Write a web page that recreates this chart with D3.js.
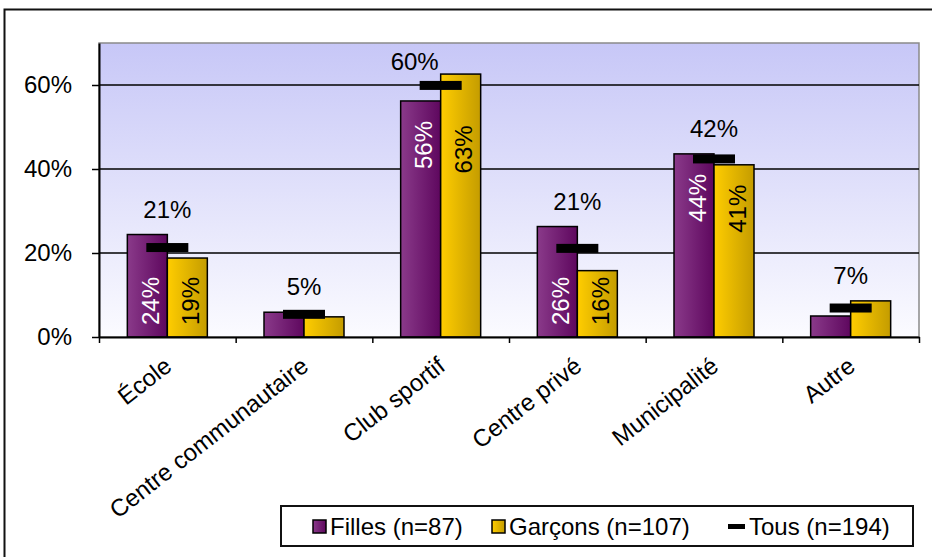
<!DOCTYPE html>
<html>
<head>
<meta charset="utf-8">
<script src="https://cdn.jsdelivr.net/npm/d3@7"></script>
<style>
  html, body { margin: 0; padding: 0; background: #fff; }
  svg { display: block; }
  text { font-family: "Liberation Sans", Arial, sans-serif; }
</style>
</head>
<body>
<svg id="chart" width="932" height="557"></svg>
<script>
// ---- Data ----
const categories = ["École", "Centre communautaire", "Club sportif", "Centre privé", "Municipalité", "Autre"];
const filles  = [24.4, 5.9, 56.2, 26.3, 43.6, 5.0];
const garcons = [18.8, 4.8, 62.6, 15.8, 41.0, 8.6];
const tous    = [21.3, 5.4, 59.9, 21.1, 42.4, 6.9];
const yTicks  = [0, 20, 40, 60];
const seriesNames = ["Filles (n=87)", "Garçons (n=107)", "Tous (n=194)"];

// ---- Layout ----
const svg = d3.select("#chart");
const plot = { left: 99, right: 919, top: 43, bottom: 337 };
const FS = 24;

const defs = svg.append("defs");
const bg = defs.append("linearGradient").attr("id", "bgGrad").attr("x1", 0).attr("y1", 0).attr("x2", 0).attr("y2", 1);
bg.append("stop").attr("offset", "0%").attr("stop-color", "#c7c7f7");
bg.append("stop").attr("offset", "100%").attr("stop-color", "#fbfbff");
const gp = defs.append("linearGradient").attr("id", "purpleGrad").attr("x1", 0).attr("y1", 0).attr("x2", 1).attr("y2", 0);
gp.append("stop").attr("offset", "0%").attr("stop-color", "#8a3a8a");
gp.append("stop").attr("offset", "100%").attr("stop-color", "#5e075e");
const gy = defs.append("linearGradient").attr("id", "yellowGrad").attr("x1", 0).attr("y1", 0).attr("x2", 1).attr("y2", 0);
gy.append("stop").attr("offset", "0%").attr("stop-color", "#ffcd00");
gy.append("stop").attr("offset", "100%").attr("stop-color", "#c49c00");

// outer frame
svg.append("rect").attr("x", 4.5).attr("y", 9.5).attr("width", 940).attr("height", 560)
  .attr("fill", "none").attr("stroke", "#111").attr("stroke-width", 2);

// scales
const x = d3.scaleBand().domain(categories).range([plot.left, plot.right]).padding(0);
const xIdx = d3.scaleLinear().domain([0, categories.length]).range([plot.left, plot.right]);
const y = d3.scaleLinear().domain([0, 70]).range([plot.bottom, plot.top]);
const cx = c => x(c) + x.bandwidth() / 2;
const barW = 40;

// plot background
svg.append("rect").attr("x", plot.left).attr("y", plot.top)
  .attr("width", plot.right - plot.left).attr("height", plot.bottom - plot.top)
  .attr("fill", "url(#bgGrad)").attr("stroke", "#8a8a8a").attr("stroke-width", 1.5);

// gridlines
svg.append("g").selectAll("line").data(yTicks.filter(d => d > 0)).join("line")
  .attr("x1", plot.left).attr("x2", plot.right)
  .attr("y1", d => y(d)).attr("y2", d => y(d))
  .attr("stroke", "#000").attr("stroke-width", 1.5);

// y axis
const yAxis = svg.append("g").attr("transform", `translate(${plot.left},0)`)
  .call(d3.axisLeft(y).tickValues(yTicks).tickFormat(d => d + "%").tickSize(7).tickSizeOuter(0).tickPadding(20));
yAxis.select(".domain").attr("stroke", "#000").attr("stroke-width", 2);
yAxis.selectAll(".tick line").attr("stroke", "#000").attr("stroke-width", 1.5);
yAxis.selectAll(".tick text").attr("font-size", FS).attr("fill", "#000")
  .attr("font-family", "Liberation Sans, Arial, sans-serif");

// bars
const gBars = svg.append("g");
gBars.selectAll("rect.f").data(categories).join("rect").attr("class", "f")
  .attr("x", c => cx(c) - barW).attr("width", barW)
  .attr("y", (c, i) => y(filles[i])).attr("height", (c, i) => y(0) - y(filles[i]))
  .attr("fill", "url(#purpleGrad)").attr("stroke", "#000").attr("stroke-width", 1.5);
gBars.selectAll("rect.g").data(categories).join("rect").attr("class", "g")
  .attr("x", c => cx(c)).attr("width", barW)
  .attr("y", (c, i) => y(garcons[i])).attr("height", (c, i) => y(0) - y(garcons[i]))
  .attr("fill", "url(#yellowGrad)").attr("stroke", "#000").attr("stroke-width", 1.5);

// x axis (ticks at category boundaries)
const xAxis = svg.append("g").attr("transform", `translate(0,${plot.bottom})`)
  .call(d3.axisBottom(xIdx).tickValues(d3.range(categories.length + 1)).tickFormat("").tickSize(6).tickSizeOuter(0));
xAxis.select(".domain").attr("stroke", "#000").attr("stroke-width", 2);
xAxis.selectAll(".tick line").attr("stroke", "#000").attr("stroke-width", 1.5);

// inside labels for bars (rotated)
function insideTop(v, tv) {
  const top = y(v), h = y(0) - top;
  let t = h > 150 ? top + 20 : y(0) - 60;
  t = Math.max(t, top + 6);
  const mBottom = y(tv) + 4.5;
  if (t < mBottom + 6) t = y(tv) + 40;
  return t;
}
const labelData = [];
categories.forEach((c, i) => {
  if (filles[i] >= 10) labelData.push({ x: cx(c) - barW / 2 + 3, t: insideTop(filles[i], tous[i]), v: filles[i], col: "#fff" });
  if (garcons[i] >= 10) labelData.push({ x: cx(c) + barW / 2 + 3, t: insideTop(garcons[i], tous[i]), v: garcons[i], col: "#000" });
});
svg.append("g").selectAll("text").data(labelData).join("text")
  .attr("transform", d => `translate(${d.x},${d.t + 24}) rotate(-90)`)
  .attr("text-anchor", "middle").attr("dominant-baseline", "central")
  .attr("font-size", FS).attr("fill", d => d.col)
  .text(d => Math.round(d.v) + "%");

// Tous markers
svg.append("g").selectAll("rect").data(categories).join("rect")
  .attr("x", c => cx(c) - 21).attr("width", 42)
  .attr("y", (c, i) => y(tous[i]) - 4.5).attr("height", 9)
  .attr("fill", "#000");

// Tous labels
svg.append("g").selectAll("text").data(categories).join("text")
  .each(function (c, i) {
    const yt = y(tous[i]);
    let base = Math.min(yt - 15, Math.min(y(filles[i]), y(garcons[i])) - 17);
    let xx = cx(c);
    if (base - 17 < plot.top + 8) { base = yt - 15; xx = cx(c) - 26; }
    d3.select(this).attr("x", xx).attr("y", base);
  })
  .attr("text-anchor", "middle").attr("font-size", FS).attr("fill", "#000")
  .text((c, i) => Math.round(tous[i]) + "%");

// category labels
svg.append("g").selectAll("text").data(categories).join("text")
  .attr("transform", c => `translate(${cx(c) + 6},369) rotate(-38)`)
  .attr("text-anchor", "end").attr("font-size", FS).attr("fill", "#000")
  .text(c => c);

// legend
const lg = svg.append("g");
lg.append("rect").attr("x", 281).attr("y", 506).attr("width", 632).attr("height", 40)
  .attr("fill", "#fff").attr("stroke", "#111").attr("stroke-width", 2);
const legendItems = [
  { name: seriesNames[0], kind: "box", fill: "url(#purpleGrad)", x: 313 },
  { name: seriesNames[1], kind: "box", fill: "url(#yellowGrad)", x: 492 },
  { name: seriesNames[2], kind: "line", fill: "#000", x: 728 }
];
legendItems.forEach(it => {
  if (it.kind === "box") {
    lg.append("rect").attr("x", it.x).attr("y", 520).attr("width", 13).attr("height", 13)
      .attr("fill", it.fill).attr("stroke", "#000").attr("stroke-width", 1.5);
  } else {
    lg.append("rect").attr("x", it.x).attr("y", 524).attr("width", 17).attr("height", 5).attr("fill", "#000");
  }
  lg.append("text").attr("x", it.x + (it.kind === "box" ? 17 : 21)).attr("y", 535)
    .attr("font-size", FS).attr("fill", "#000").text(it.name);
});
</script>
</body>
</html>
